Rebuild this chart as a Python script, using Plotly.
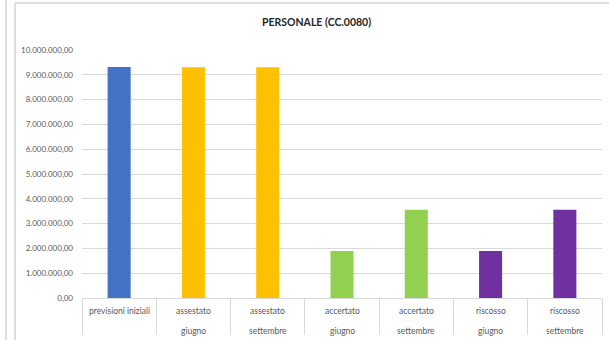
import plotly.graph_objects as go

# data
categories = [
    "previsioni iniziali",
    "assestato giugno",
    "assestato settembre",
    "accertato giugno",
    "accertato settembre",
    "riscosso giugno",
    "riscosso settembre",
]
label_line1 = ["previsioni iniziali", "assestato", "assestato", "accertato",
               "accertato", "riscosso", "riscosso"]
label_line2 = ["", "giugno", "settembre", "giugno", "settembre", "giugno", "settembre"]
values = [9310000, 9300000, 9300000, 1900000, 3560000, 1900000, 3560000]
bar_colors = ["#4472C4", "#FFC000", "#FFC000", "#92D050", "#92D050", "#7030A0", "#7030A0"]

y_ticks = [i * 1000000 for i in range(11)]
y_labels = ["0,00", "1.000.000,00", "2.000.000,00", "3.000.000,00", "4.000.000,00",
            "5.000.000,00", "6.000.000,00", "7.000.000,00", "8.000.000,00",
            "9.000.000,00", "10.000.000,00"]

FONT = "Lato"
GRAY = "#595959"
GRID = "#d9d9d9"

fig = go.Figure(
    go.Bar(x=categories, y=values, marker_color=bar_colors, marker_line_width=0)
)

# pixel helpers for the plot box (82..602 x, 50..298 y)
L, R, T, B = 82, 7, 50, 42
PW, PH = 609 - L - R, 340 - T - B


def px_x(p):
    return (p - L) / PW


def px_y(p):
    return (340 - B - p) / PH


annotations = [
    dict(text="<b>PERSONALE (CC.0080)</b>", x=px_x(316), y=px_y(22),
         xref="paper", yref="paper", xanchor="center", yanchor="middle",
         showarrow=False, font=dict(family=FONT, size=10.5, color="#262626"))
]
for cat, l1, l2 in zip(categories, label_line1, label_line2):
    annotations.append(dict(text=l1, x=cat, y=px_y(311), xref="x", yref="paper",
                            xanchor="center", yanchor="middle", showarrow=False,
                            font=dict(family=FONT, size=8.5, color=GRAY)))
    if l2:
        annotations.append(dict(text=l2, x=cat, y=px_y(331), xref="x", yref="paper",
                                xanchor="center", yanchor="middle", showarrow=False,
                                font=dict(family=FONT, size=8.5, color=GRAY)))

shapes = [
    # chart frame
    dict(type="rect", xref="paper", yref="paper", x0=px_x(15), x1=px_x(640),
         y0=px_y(360), y1=px_y(3), line=dict(color="#bfbfbf", width=1)),
    # neighbouring chart edge
    dict(type="line", xref="paper", yref="paper", x0=px_x(6), x1=px_x(6),
         y0=px_y(360), y1=px_y(-10), line=dict(color="#bfbfbf", width=1)),
]

fig.update_layout(
    width=609, height=340,
    margin=dict(l=L, r=R, t=T, b=B),
    paper_bgcolor="white", plot_bgcolor="white",
    showlegend=False,
    bargap=0.69,
    font=dict(family=FONT, size=8, color=GRAY),
    annotations=annotations,
    shapes=shapes,
)
fig.update_xaxes(
    showticklabels=False, tickson="boundaries", ticks="outside", ticklen=36,
    tickcolor=GRID, showline=True, linecolor=GRID, showgrid=False,
)
fig.update_yaxes(
    range=[0, 10000000], tickvals=y_ticks, ticktext=y_labels,
    showgrid=True, gridcolor=GRID, zeroline=False, showline=False,
    ticklabelstandoff=8, tickfont=dict(family=FONT, size=8, color=GRAY),
)

# drop the default page margin so the figure sits at the window's corner
fig.write_html("out.html", config={"displayModeBar": False},
               post_script="document.body.style.margin='0';")
